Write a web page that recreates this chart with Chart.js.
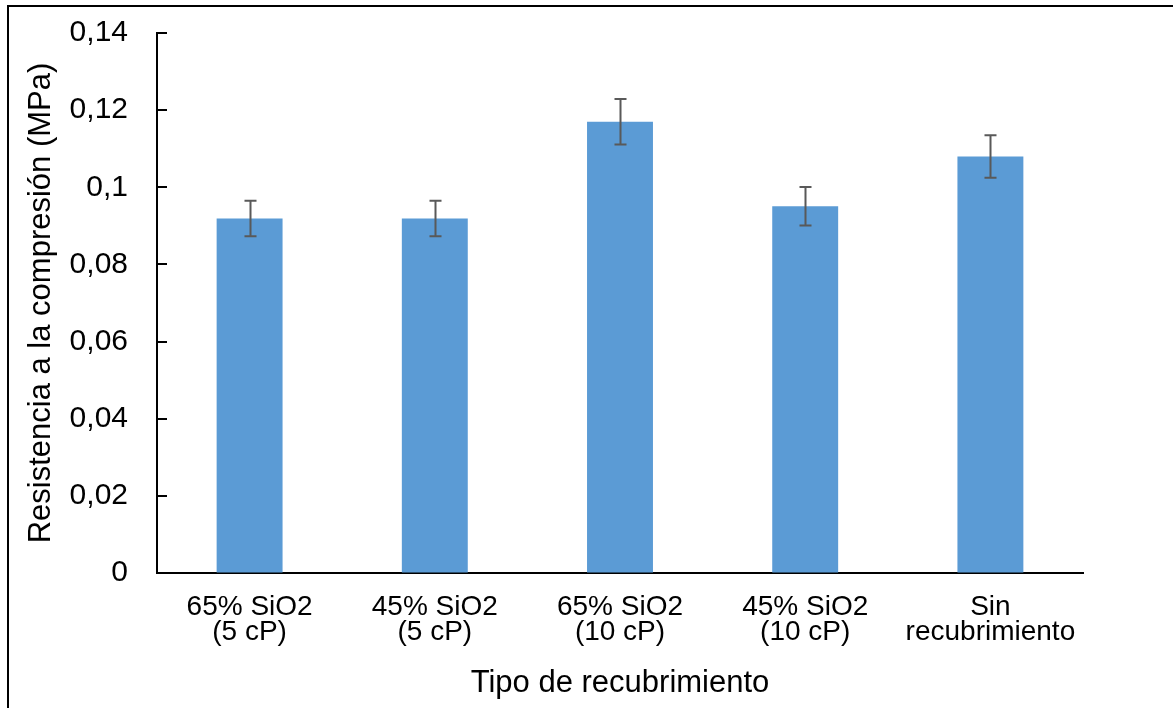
<!DOCTYPE html>
<html>
<head>
<meta charset="utf-8">
<script src="https://cdn.jsdelivr.net/npm/chart.js@4/dist/chart.umd.min.js"></script>
<style>
  html, body { margin: 0; padding: 0; background: #fff; }
  #wrap { width: 1173px; height: 708px; }
</style>
</head>
<body>
<div id="wrap"><canvas id="chart" width="1173" height="708"></canvas></div>
<script>
// Data
const categories = [
  ['65% SiO2', '(5 cP)'],
  ['45% SiO2', '(5 cP)'],
  ['65% SiO2', '(10 cP)'],
  ['45% SiO2', '(10 cP)'],
  ['Sin', 'recubrimiento']
];
const strength = [0.0919, 0.0919, 0.117, 0.0951, 0.108];
const strengthErr = [0.0046, 0.0046, 0.0059, 0.005, 0.0055];
const yTickLabels = ['0', '0,02', '0,04', '0,06', '0,08', '0,1', '0,12', '0,14'];

const FONT = '"Liberation Sans", Arial, sans-serif';

// frame, inside tick marks on y, error bars
const extras = {
  id: 'extras',
  beforeDraw (chart) {
    const ctx = chart.ctx;
    ctx.save();
    ctx.fillStyle = '#fff';
    ctx.fillRect(0, 0, chart.width, chart.height);
    ctx.strokeStyle = '#000';
    ctx.lineWidth = 2;
    ctx.strokeRect(8, 6, 3000, 3000);
    ctx.restore();
  },
  afterDatasetsDraw (chart) {
    const ctx = chart.ctx;
    const y = chart.scales.y;
    const x = chart.scales.x;
    ctx.save();
    // y tick marks pointing into the plot
    ctx.strokeStyle = '#000';
    ctx.lineWidth = 2;
    y.ticks.forEach((t, i) => {
      const py = Math.round(y.getPixelForTick(i));
      ctx.beginPath();
      ctx.moveTo(chart.chartArea.left, py);
      ctx.lineTo(chart.chartArea.left + 10, py);
      ctx.stroke();
    });
    // error bars
    ctx.strokeStyle = '#595959';
    ctx.lineWidth = 2;
    strength.forEach((v, i) => {
      const px = Math.round(x.getPixelForValue(i)) + 0.5;
      const top = y.getPixelForValue(v + strengthErr[i]);
      const bot = y.getPixelForValue(v - strengthErr[i]);
      ctx.beginPath();
      ctx.moveTo(px, top); ctx.lineTo(px, bot);
      ctx.moveTo(px - 6, top); ctx.lineTo(px + 6, top);
      ctx.moveTo(px - 6, bot); ctx.lineTo(px + 6, bot);
      ctx.stroke();
    });
    ctx.restore();
  }
};

new Chart(document.getElementById('chart'), {
  type: 'bar',
  data: {
    labels: categories,
    datasets: [{
      data: strength,
      backgroundColor: '#5B9BD5',
      borderWidth: 0,
      categoryPercentage: 1,
      barPercentage: 0.356
    }]
  },
  options: {
    responsive: false,
    animation: false,
    layout: { padding: { top: 33, right: 90, bottom: 0, left: 0 } },
    plugins: { legend: { display: false }, tooltip: { enabled: false } },
    scales: {
      x: {
        afterFit: s => { s.height = 135; s.paddingLeft = 0; s.paddingRight = 0; },
        grid: { display: true, drawOnChartArea: false, drawTicks: false },
        border: { display: true, color: '#000', width: 2 },
        ticks: {
          color: '#000',
          padding: 22,
          maxRotation: 0,
          autoSkip: false,
          font: { family: FONT, size: 28, lineHeight: 25 / 28 }
        },
        title: {
          display: true,
          text: 'Tipo de recubrimiento',
          color: '#000',
          font: { family: FONT, size: 31 },
          padding: { top: 0, bottom: 6 }
        }
      },
      y: {
        min: 0,
        max: 0.14,
        afterFit: s => { s.width = 157; s.paddingTop = 0; s.paddingBottom = 0; },
        grid: { display: true, drawOnChartArea: false, drawTicks: false },
        border: { display: true, color: '#000', width: 2 },
        ticks: {
          stepSize: 0.02,
          color: '#000',
          padding: 29,
          font: { family: FONT, size: 30 },
          callback: (v, i) => yTickLabels[i]
        },
        title: {
          display: true,
          text: 'Resistencia a la compresión (MPa)',
          color: '#000',
          font: { family: FONT, size: 31 },
          padding: { top: 23, bottom: 0 }
        }
      }
    }
  },
  plugins: [extras]
});
</script>
</body>
</html>
